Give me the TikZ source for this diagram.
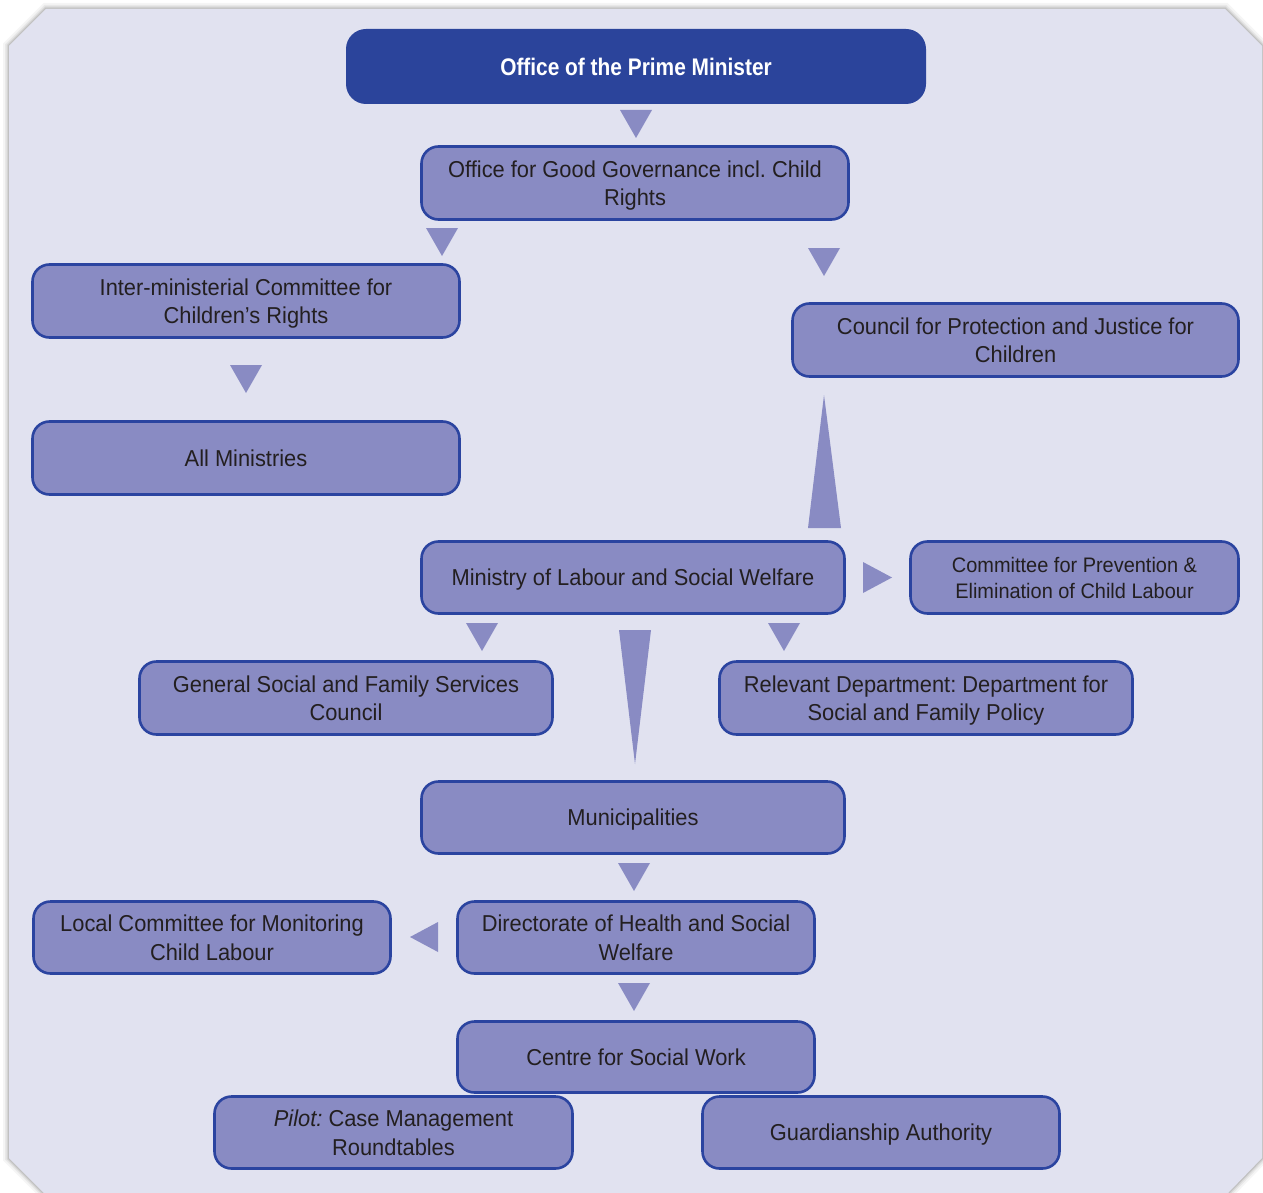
\documentclass[tikz,border=0pt]{standalone}
\usepackage{fontspec}
\setmainfont[FakeStretch=0.95]{Liberation Sans}
\newfontfamily\headfont[FakeStretch=0.87]{Liberation Sans}
\usetikzlibrary{calc}

\definecolor{panel}{HTML}{E1E2F0}
\definecolor{boxfill}{HTML}{898BC3}
\definecolor{boxline}{HTML}{2B44A0}
\definecolor{headfill}{HTML}{2B449B}
\definecolor{ink}{HTML}{231F20}

\tikzset{
  unit/.style={rounded corners=17pt, fill=boxfill, draw=boxline, line width=2.6pt,
    text=ink, align=center, inner sep=0pt, text depth=0pt,
    font=\fontsize{23}{28.5}\selectfont},
  smallunit/.style={unit, font=\fontsize{21}{26}\selectfont},
  headbox/.style={rounded corners=20pt, fill=headfill, text=white, align=center,
    inner sep=0pt, text depth=0pt, font=\headfont\bfseries\fontsize{24}{28}\selectfont},
  pointer/.style={fill=boxfill},
}

% filled triangle pointers between the boxes
\newcommand\tdown[2]{\fill[pointer] ({#1-16},#2) -- ({#1+16},#2) -- (#1,{#2+28}) -- cycle;}

\begin{document}
\frenchspacing
\begin{tikzpicture}[x=1pt,y=-1pt]
\useasboundingbox (0,0) rectangle (1263,1193);
\fill[white] (0,0) rectangle (1263,1193);

% panel with cut corners and a soft edge shadow
\def\panelpath{(9,46) -- (46,9) -- (1225,9) -- (1262,46) -- (1262,1158) -- (1228,1193) -- (44,1193) -- (9,1158) -- cycle}
\foreach \w/\o in {12/0.04, 8/0.05, 5/0.07, 2.5/0.10}
  \draw[black, opacity=\o, line width=\w pt, line join=miter] \panelpath;
\fill[panel] \panelpath;

% boxes
\node[headbox, minimum width=580pt, minimum height=75pt] (pm) at (636,66.5)
  {Office of the Prime Minister};
\node[unit, minimum width=427pt, minimum height=73pt] (gg) at (635,183)
  {Office for Good Governance incl. Child\\Rights};
\node[unit, minimum width=427pt, minimum height=73pt] (imc) at (246,301)
  {Inter-ministerial Committee for\\Children’s Rights};
\node[unit, minimum width=446pt, minimum height=73pt] (cpj) at (1015.5,340)
  {Council for Protection and Justice for\\Children};
\node[unit, minimum width=427pt, minimum height=73pt] (allm) at (246,458)
  {All Ministries};
\node[unit, minimum width=423pt, minimum height=72pt] (mlsw) at (633,577.5)
  {Ministry of Labour and Social Welfare};
\node[smallunit, minimum width=328pt, minimum height=72pt] (cpe) at (1074.5,577.5)
  {Committee for Prevention \&\\Elimination of Child Labour};
\node[unit, minimum width=413pt, minimum height=73pt] (gsf) at (346,698)
  {General Social and Family Services\\Council};
\node[unit, minimum width=413pt, minimum height=73pt] (rdp) at (926,698)
  {Relevant Department: Department for\\Social and Family Policy};
\node[unit, minimum width=423pt, minimum height=72pt] (mun) at (633,817.5)
  {Municipalities};
\node[unit, minimum width=357pt, minimum height=72pt] (dhs) at (636,937.5)
  {Directorate of Health and Social\\Welfare};
\node[unit, minimum width=357pt, minimum height=72pt] (lcm) at (212,937.5)
  {Local Committee for Monitoring\\Child Labour};
\node[unit, minimum width=357pt, minimum height=71pt] (csw) at (636,1057)
  {Centre for Social Work};
\node[unit, minimum width=358pt, minimum height=72pt] (pil) at (393.5,1132.5)
  {\itshape Pilot:\upshape{} Case Management\\Roundtables};
\node[unit, minimum width=357pt, minimum height=72pt] (gua) at (881,1132.5)
  {Guardianship Authority};

% pointers
\tdown{636}{110}   % pm -> gg
\tdown{442}{228}   % gg -> imc
\tdown{824}{248}   % gg -> cpj
\tdown{246}{365}   % imc -> allm
\tdown{482}{623}   % mlsw -> gsf
\tdown{784}{623}   % mlsw -> rdp
\tdown{634}{863}   % mun -> dhs
\tdown{634}{983}   % dhs -> csw
\fill[pointer] (863,562) -- (892,577.5) -- (863,593) -- cycle;   % mlsw -> cpe
\fill[pointer] (438,922) -- (410,937) -- (438,952) -- cycle;     % dhs -> lcm
\fill[pointer] (808,528) -- (841,528) -- (824,395) -- cycle;     % mlsw -> cpj
\fill[pointer] (619,630) -- (651,630) -- (635,764) -- cycle;     % mlsw -> mun
\end{tikzpicture}
\end{document}
